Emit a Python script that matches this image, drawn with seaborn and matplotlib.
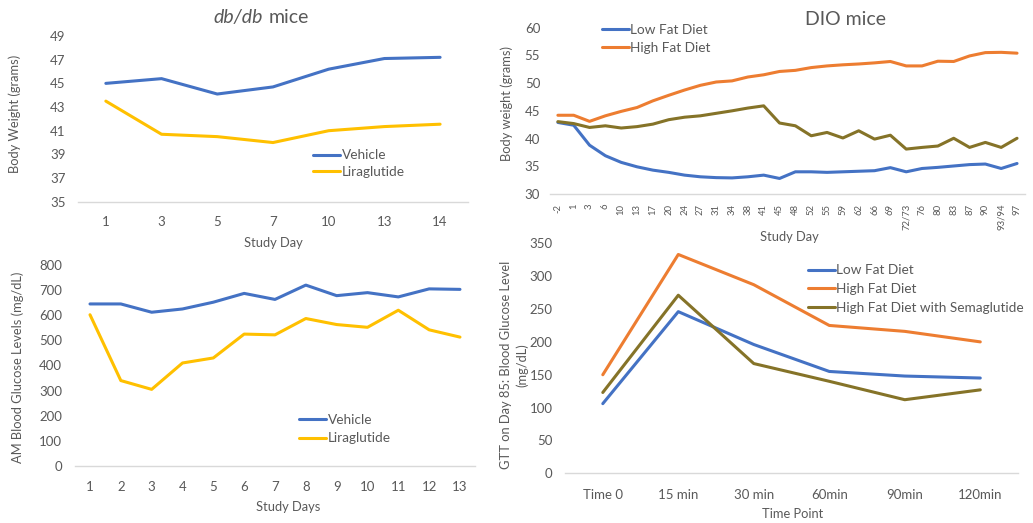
import matplotlib
matplotlib.use("Agg")
import matplotlib.pyplot as plt
import seaborn as sns
import pandas as pd

# ---------------- data ----------------
db_days = ["1", "3", "5", "7", "10", "13", "14"]
db_vehicle_bw = [45.0, 45.4, 44.1, 44.7, 46.2, 47.1, 47.2]
db_lira_bw = [43.5, 40.7, 40.5, 40.0, 41.0, 41.35, 41.55]

dio_days = ["-2", "1", "3", "6", "10", "13", "17", "20", "24", "27", "31", "34",
            "38", "41", "45", "48", "52", "55", "59", "62", "66", "69", "72/73",
            "76", "80", "83", "87", "90", "93/94", "97"]
dio_low_fat = [42.9, 42.4, 38.8, 36.9, 35.7, 34.9, 34.3, 33.9, 33.4, 33.1, 32.95, 32.9,
               33.1, 33.4, 32.8, 34.0, 34.0, 33.9, 34.0, 34.1, 34.2, 34.75, 34.0,
               34.6, 34.8, 35.05, 35.3, 35.4, 34.6, 35.5]
dio_high_fat = [44.2, 44.2, 43.1, 44.1, 44.9, 45.6, 46.8, 47.8, 48.75, 49.6, 50.2, 50.4,
                51.1, 51.5, 52.1, 52.3, 52.8, 53.1, 53.3, 53.45, 53.65, 53.9, 53.1,
                53.1, 53.95, 53.9, 54.9, 55.5, 55.55, 55.4]
dio_sema = [43.05, 42.7, 42.0, 42.3, 41.9, 42.15, 42.6, 43.4, 43.85, 44.1, 44.55, 45.0,
            45.5, 45.9, 42.8, 42.3, 40.5, 41.1, 40.1, 41.4, 39.9, 40.6, 38.1,
            38.4, 38.65, 40.05, 38.4, 39.3, 38.4, 40.05]

glu_days = ["1", "2", "3", "4", "5", "6", "7", "8", "9", "10", "11", "12", "13"]
glu_vehicle = [645, 645, 612, 625, 652, 687, 663, 720, 678, 690, 673, 705, 703]
glu_lira = [602, 340, 305, 410, 430, 525, 522, 587, 563, 552, 620, 542, 513]

gtt_times = ["Time 0", "15 min", "30 min", "60min", "90min", "120min"]
gtt_low_fat = [106, 246, 196, 155, 148, 145]
gtt_high_fat = [150, 333, 287, 225, 216, 200]
gtt_sema = [123, 271, 167, 140, 112, 127]

BLUE = "#4472C4"
ORANGE = "#ED7D31"
YELLOW = "#FFC000"
OLIVE = "#857328"
GREY = "#595959"

sns.set_theme(style="white")
plt.rcParams["font.family"] = ["Lato", "DejaVu Sans"]
plt.rcParams["text.color"] = GREY
plt.rcParams["axes.labelcolor"] = GREY
plt.rcParams["xtick.color"] = GREY
plt.rcParams["ytick.color"] = GREY

fig = plt.figure(figsize=(10.33, 5.23), dpi=100)

ax_tl = fig.add_axes([0.0755, 0.6143, 0.3775, 0.3168])
ax_tr = fig.add_axes([0.5324, 0.6291, 0.4598, 0.3180])
ax_bl = fig.add_axes([0.0722, 0.1090, 0.3880, 0.3843])
ax_br = fig.add_axes([0.5470, 0.0950, 0.4385, 0.4398])


def long_df(x, series):
    rows = []
    for name, vals in series:
        for xi, v in zip(x, vals):
            rows.append({"x": xi, "y": v, "series": name})
    return pd.DataFrame(rows)


def style_axes(ax, n, ylim, yticks, xpad, ypad, xsize=9.5):
    ax.set_xlim(-0.5, n - 0.5)
    ax.set_ylim(*ylim)
    ax.set_yticks(yticks)
    for s in ["top", "right", "left"]:
        ax.spines[s].set_visible(False)
    ax.spines["bottom"].set_color("#D9D9D9")
    ax.spines["bottom"].set_linewidth(1.0)
    ax.tick_params(axis="both", length=0)
    ax.tick_params(axis="x", pad=xpad, labelsize=xsize)
    ax.tick_params(axis="y", pad=ypad, labelsize=9.5)
    ax.grid(False)


def make_legend(ax, x, y, spacing, n=None):
    h, l = ax.get_legend_handles_labels()
    if n is not None:
        h, l = h[:n], l[:n]
    leg = ax.legend(h, l, loc="center left", bbox_to_anchor=(x, y), frameon=False,
                    borderpad=0, borderaxespad=0, handlelength=2.0, handletextpad=0.1,
                    labelspacing=spacing, fontsize=9.8)
    for line in leg.get_lines():
        line.set_linewidth(2.2)
    for t in leg.get_texts():
        t.set_color(GREY)


def set_labels(ax, xlabel, xpos, ylabel, ypos, size=9.3):
    ax.set_xlabel(xlabel, fontsize=size)
    ax.set_ylabel(ylabel, fontsize=size)
    ax.xaxis.set_label_coords(*xpos)
    ax.yaxis.set_label_coords(*ypos)
    ax.xaxis.label.set_va("center")
    ax.yaxis.label.set_va("center")


# ---- top left: db/db body weight ----
df = long_df(db_days, [("Vehicle", db_vehicle_bw), ("Liraglutide", db_lira_bw)])
sns.lineplot(data=df, x="x", y="y", hue="series", palette=[BLUE, YELLOW],
             linewidth=2.2, sort=False, ax=ax_tl)
style_axes(ax_tl, len(db_days), (35, 49), range(35, 50, 2), 10, 9)
set_labels(ax_tl, "Study Day", (0.5, -0.249), "Body Weight (grams)", (-0.1615, 0.532))
make_legend(ax_tl, 0.603, 0.2305, 0.3)
ax_tl.text(0.474, 1.109, "db/db", style="italic", fontsize=14, ha="right", va="center",
           transform=ax_tl.transAxes, color=GREY)
ax_tl.text(0.489, 1.109, "mice", fontsize=14, ha="left", va="center",
           transform=ax_tl.transAxes, color=GREY)

# ---- top right: DIO body weight ----
df = long_df(dio_days, [("Low Fat Diet", dio_low_fat), ("High Fat Diet", dio_high_fat),
                        ("High Fat Diet with Semaglutide", dio_sema)])
sns.lineplot(data=df, x="x", y="y", hue="series", palette=[BLUE, ORANGE, OLIVE],
             linewidth=2.2, sort=False, ax=ax_tr)
style_axes(ax_tr, len(dio_days), (30, 60), range(30, 61, 5), 7, 7, xsize=6.8)
for lbl in ax_tr.get_xticklabels():
    lbl.set_rotation(90)
set_labels(ax_tr, "Study Day", (0.505, -0.259), "Body weight (grams)", (-0.0905, 0.547))
make_legend(ax_tr, 0.109, 0.932, 0.45, n=2)
ax_tr.text(0.623, 1.052, "DIO mice", fontsize=14, ha="center", va="center",
           transform=ax_tr.transAxes, color=GREY)

# ---- bottom left: db/db glucose ----
df = long_df(glu_days, [("Vehicle", glu_vehicle), ("Liraglutide", glu_lira)])
sns.lineplot(data=df, x="x", y="y", hue="series", palette=[BLUE, YELLOW],
             linewidth=2.2, sort=False, ax=ax_bl)
style_axes(ax_bl, len(glu_days), (0, 800), range(0, 801, 100), 11, 9)
set_labels(ax_bl, "Study Days", (0.532, -0.204), "AM Blood Glucose Levels (mg/dL)",
           (-0.141, 0.49))
make_legend(ax_bl, 0.56, 0.184, 0.5)

# ---- bottom right: GTT ----
df = long_df(gtt_times, [("Low Fat Diet", gtt_low_fat), ("High Fat Diet", gtt_high_fat),
                         ("High Fat Diet with Semaglutide", gtt_sema)])
sns.lineplot(data=df, x="x", y="y", hue="series", palette=[BLUE, ORANGE, OLIVE],
             linewidth=2.2, sort=False, ax=ax_br)
style_axes(ax_br, len(gtt_times), (0, 350), range(0, 351, 50), 11, 9)
set_labels(ax_br, "Time Point", (0.503, -0.177),
           "GTT on Day 85: Blood Glucose Level\n(mg/dL)", (-0.113, 0.471))
ax_br.yaxis.label.set_linespacing(1.35)
make_legend(ax_br, 0.536, 0.801, 0.5)

fig.savefig("out.png", dpi=100, facecolor="white")
